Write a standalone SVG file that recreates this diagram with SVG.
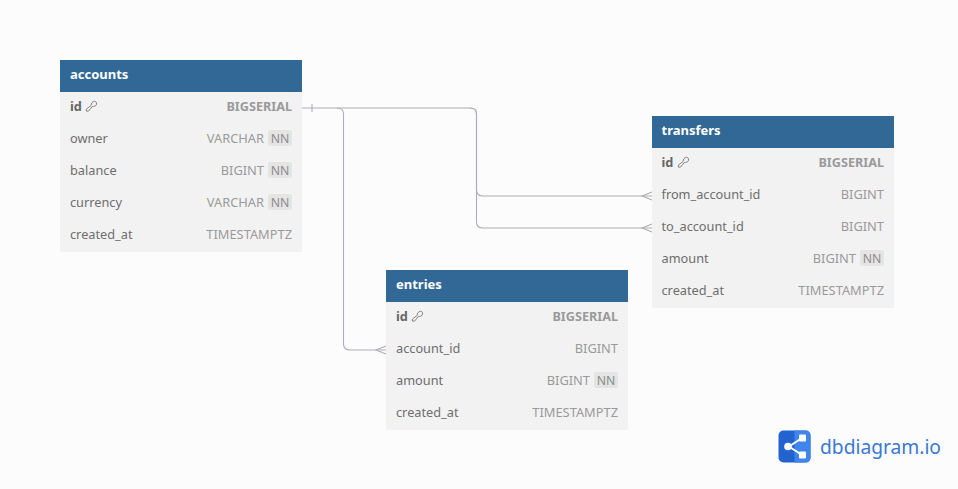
<svg xmlns="http://www.w3.org/2000/svg" width="958" height="489" viewBox="0 0 958 489">
<defs>
<g id="key"><path d="M0.300,-2.300C0.800,-4.800 3.300,-5.800 4.800,-4.800C6.300,-3.600 5.800,-1 3.600,-0.200C2.800,0.100 2.200,0 1.600,-0.300L-2.400,4.600H-4.600V2.600L0.500,-1.400C0.300,-1.700 0.200,-2 0.300,-2.300Z" fill="none" stroke="#777" stroke-width="0.900"/></g>
</defs>
<style>
text{font-family:"Noto Sans","Open Sans",sans-serif;font-size:12.750px;fill:#6e6e6e}
.hd{fill:#316896}.body{fill:#f2f2f2}
.title{font-weight:700;fill:#fff;font-size:13px}
.pk{font-weight:700;fill:#666}
.type{fill:#9a9a9a;text-anchor:end;font-size:12.850px}
.tpk{font-weight:700;fill:#9a9a9a;text-anchor:end;font-size:12.650px}
.nnb{fill:#e4e4e4}
.nn{fill:#8c8c8c;font-size:12.250px;text-anchor:middle}
.c{fill:none;stroke:#aeaeb6;stroke-width:1.100}
</style>
<rect width="958" height="489" fill="#fcfcfc"/>
<g id="connectors">
<path class="c" d="M302,108H337C341,108 343.500,110 343.500,114V344C343.500,348 346,350 350,350H386"/>
<path class="c" d="M337,108H470C474,108 476.500,110 476.500,114V190C476.500,194 479,196 483,196H652"/>
<path class="c" d="M470,108C474,108 476.500,110 476.500,114V222C476.500,226 479,228 483,228H652"/>
<path class="c" d="M312,104V112M652,192L642,196L652,200M652,224L642,228L652,232M386,346L376,350L386,354"/>
</g>
<g id="accounts">
<rect class="body" x="60" y="92" width="242" height="160"/><rect class="hd" x="60" y="60" width="242" height="32"/>
<text class="title" x="70" y="79">accounts</text>
<text class="pk" x="70" y="111">id</text><use href="#key" x="91" y="106.500"/><text class="tpk" x="292" y="111">BIGSERIAL</text>
<text x="70" y="143">owner</text><rect class="nnb" x="268" y="130" width="24" height="16" rx="2"/><text class="type" x="264" y="143">VARCHAR</text><text class="nn" x="280" y="143">NN</text>
<text x="70" y="175">balance</text><rect class="nnb" x="268" y="162" width="24" height="16" rx="2"/><text class="type" x="264" y="175">BIGINT</text><text class="nn" x="280" y="175">NN</text>
<text x="70" y="207">currency</text><rect class="nnb" x="268" y="194" width="24" height="16" rx="2"/><text class="type" x="264" y="207">VARCHAR</text><text class="nn" x="280" y="207">NN</text>
<text x="70" y="239">created_at</text><text class="type" x="292" y="239">TIMESTAMPTZ</text>
</g>
<g id="transfers">
<rect class="body" x="652" y="148" width="242" height="160"/><rect class="hd" x="652" y="116" width="242" height="32"/>
<text class="title" x="661.500" y="135">transfers</text>
<text class="pk" x="661.500" y="167">id</text><use href="#key" x="683" y="162.500"/><text class="tpk" x="884" y="167">BIGSERIAL</text>
<text x="661.500" y="199">from_account_id</text><text class="type" x="884" y="199">BIGINT</text>
<text x="661.500" y="231">to_account_id</text><text class="type" x="884" y="231">BIGINT</text>
<text x="661.500" y="263">amount</text><rect class="nnb" x="860" y="250" width="24" height="16" rx="2"/><text class="type" x="856" y="263">BIGINT</text><text class="nn" x="872" y="263">NN</text>
<text x="661.500" y="295">created_at</text><text class="type" x="884" y="295">TIMESTAMPTZ</text>
</g>
<g id="entries">
<rect class="body" x="386" y="302" width="242" height="128"/><rect class="hd" x="386" y="270" width="242" height="32"/>
<text class="title" x="396" y="289">entries</text>
<text class="pk" x="396" y="321">id</text><use href="#key" x="417" y="316.500"/><text class="tpk" x="618" y="321">BIGSERIAL</text>
<text x="396" y="353">account_id</text><text class="type" x="618" y="353">BIGINT</text>
<text x="396" y="385">amount</text><rect class="nnb" x="594" y="372" width="24" height="16" rx="2"/><text class="type" x="590" y="385">BIGINT</text><text class="nn" x="606" y="385">NN</text>
<text x="396" y="417">created_at</text><text class="type" x="618" y="417">TIMESTAMPTZ</text>
</g>
<g id="logo">
<rect x="778.500" y="430.500" width="32" height="32" rx="5" fill="#2363cf"/>
<path d="M794.500,430.500H805.500C808.500,430.500 810.500,432.500 810.500,435.500V457.500C810.500,460.500 808.500,462.500 805.500,462.500H794.500Z" fill="#3f86ec"/>
<path d="M789,446.500L802,438M789,446.500L802,455" stroke="#fff" stroke-width="2" fill="none"/>
<circle cx="788" cy="446.500" r="3.800" fill="#fff"/><rect x="799" y="434.500" width="7" height="7" rx="1" fill="#fff"/><rect x="799" y="451.500" width="7" height="7" rx="1" fill="#fff"/>
<text x="820" y="454" textLength="121" lengthAdjust="spacingAndGlyphs" style="font-size:19.500px;fill:#3a78d8">dbdiagram.io</text>
</g>
</svg>
